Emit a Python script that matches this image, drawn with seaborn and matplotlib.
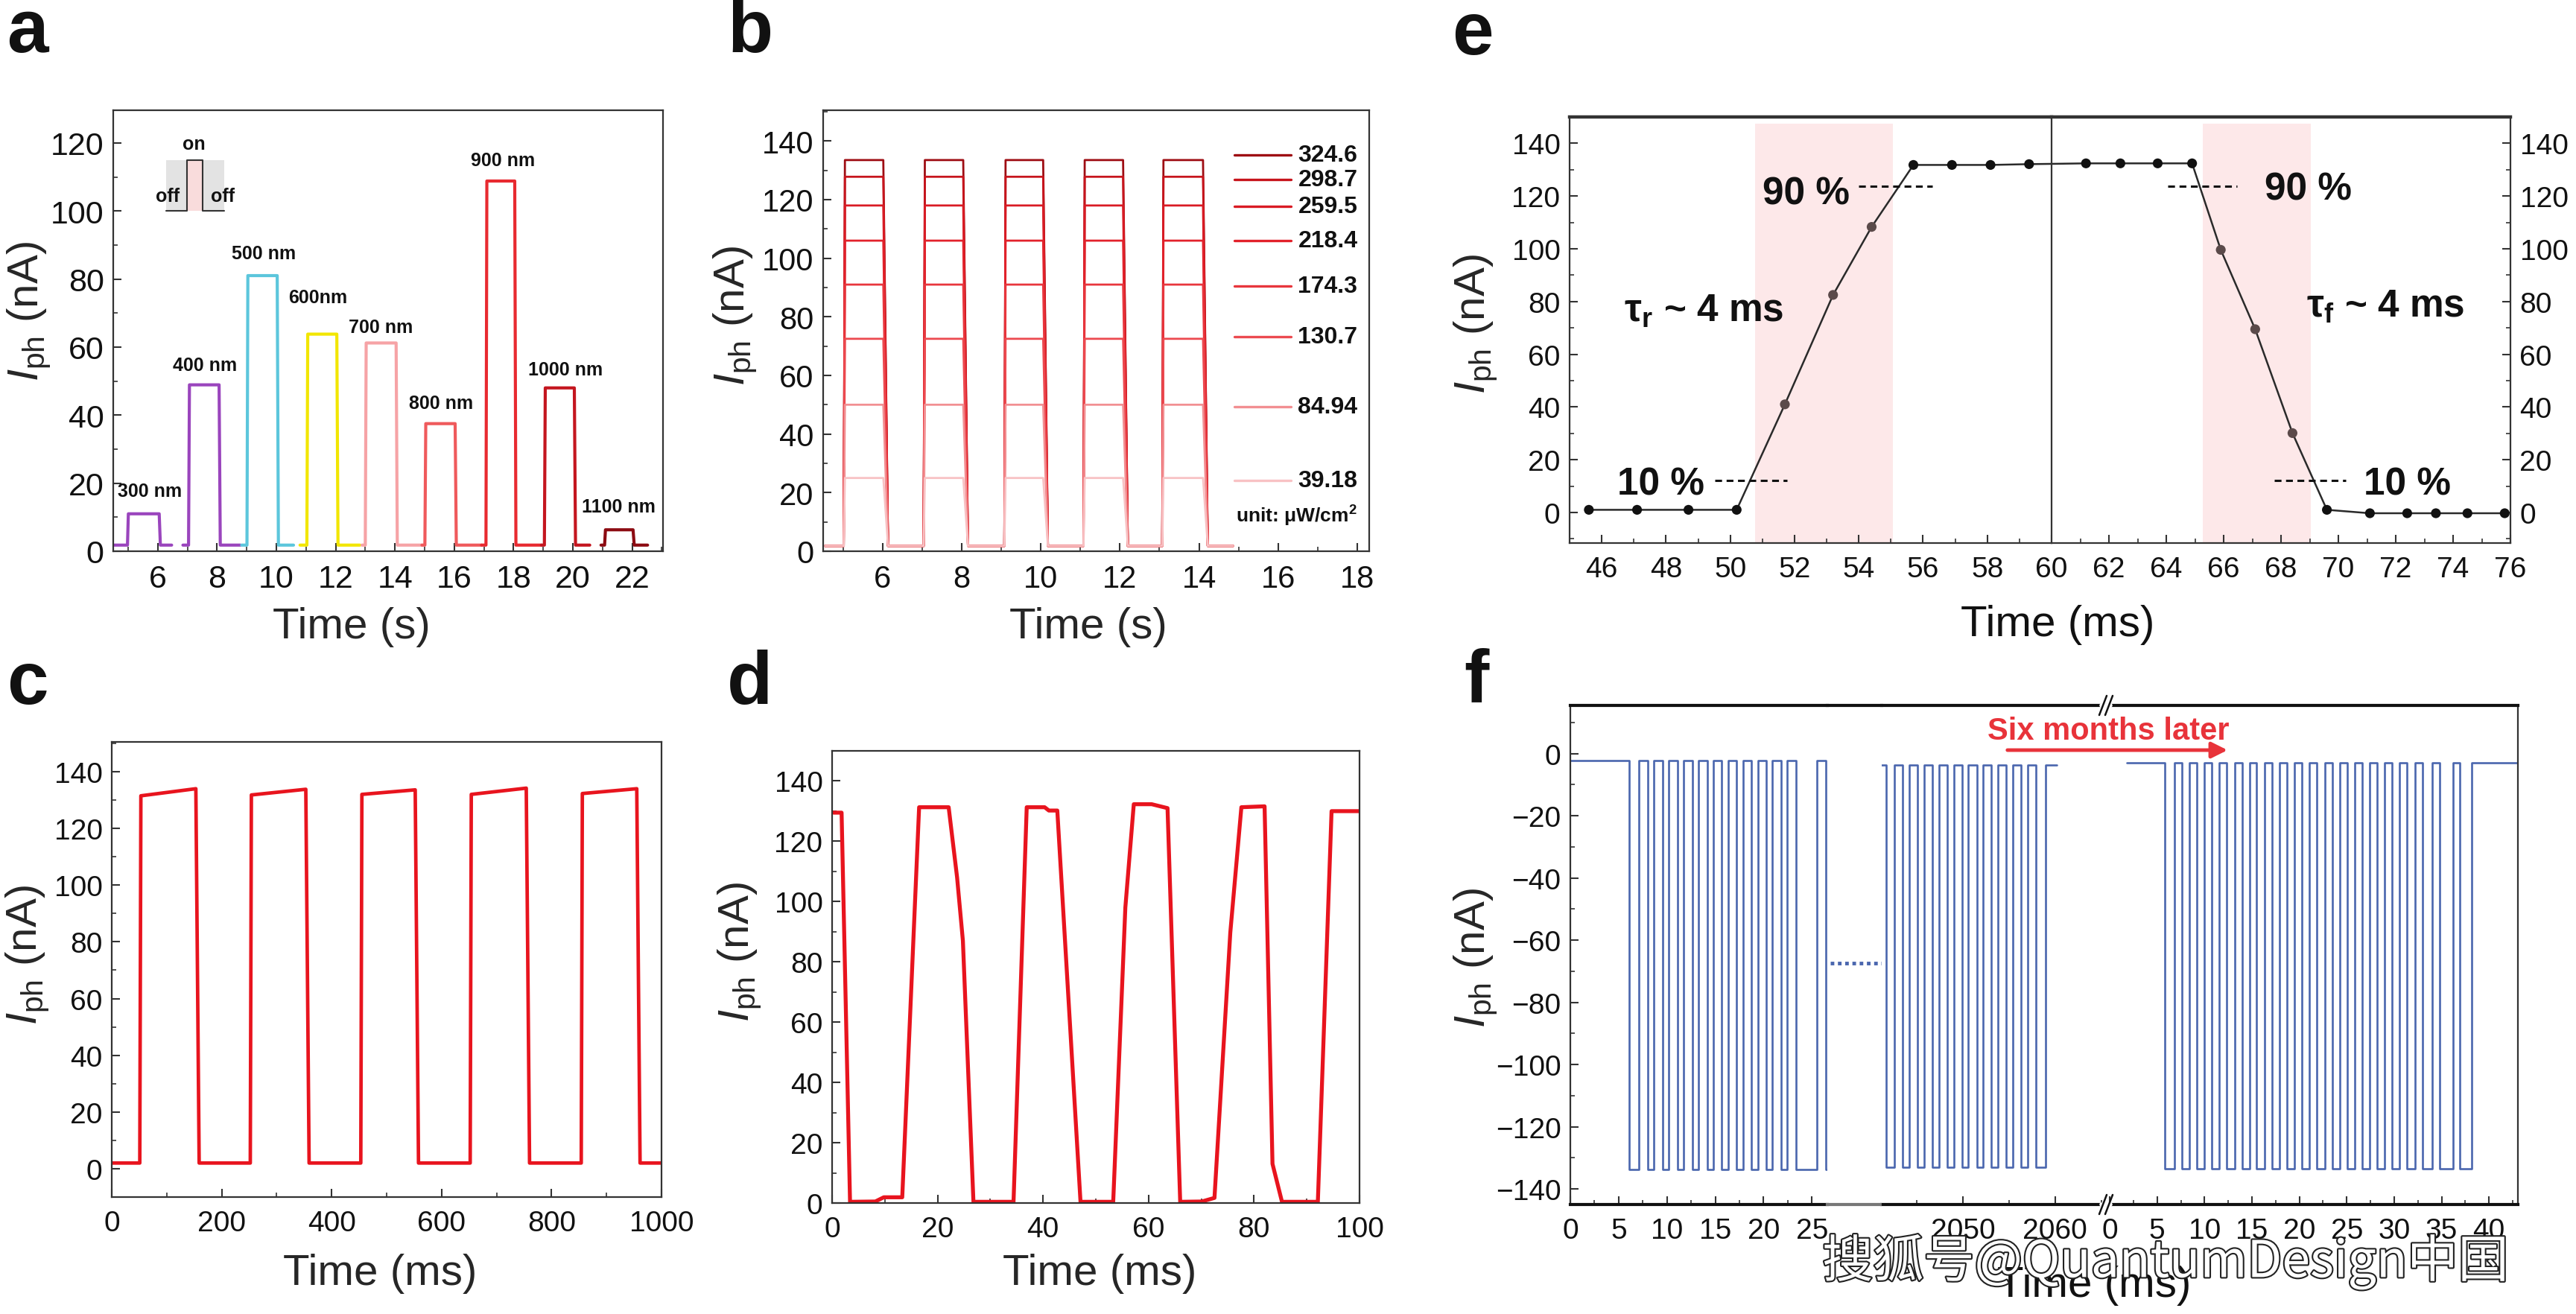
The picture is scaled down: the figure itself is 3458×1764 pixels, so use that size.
import pandas as pd
import seaborn as sns
import matplotlib.pyplot as plt
import matplotlib.patheffects as pe
from matplotlib.lines import Line2D
from matplotlib.patches import Rectangle
from matplotlib.ticker import MultipleLocator

W, H = 3458, 1765

# a: photocurrent for different wavelengths, time in s
a_labels = ['300 nm', '400 nm', '500 nm', '600nm', '700 nm', '800 nm', '900 nm', '1000 nm', '1100 nm']
a_start = [4.5, 6.85, 8.83, 10.8, 12.89, 14.91, 16.92, 18.94, 20.95]
a_on = [4.98, 7.04, 9.01, 11.03, 13.0, 15.01, 17.07, 19.04, 21.07]
a_off = [6.05, 8.07, 10.03, 12.04, 14.04, 16.03, 18.04, 20.05, 22.03]
a_end = [6.47, 8.79, 10.58, 12.82, 14.91, 16.92, 18.94, 20.57, 22.52]
a_high = [11.0, 48.9, 81.0, 63.8, 61.2, 37.5, 108.8, 48.0, 6.3]
a_dark = 1.8
a_text_x = [5.73, 7.6, 9.58, 11.4, 13.52, 15.55, 17.64, 19.76, 21.55]
a_text_y = [17.8, 54.7, 87.5, 74.7, 66.0, 43.6, 114.9, 53.4, 13.1]
sketch_x = [6.29, 6.99, 6.99, 7.52, 7.52, 8.24]
sketch_y = [100, 100, 115, 115, 100, 100]

# b: different light intensities (uW/cm2), time in s
b_labels = ['324.6', '298.7', '259.5', '218.4', '174.3', '130.7', '84.94', '39.18']
b_levels = [133.5, 127.8, 118.0, 106.0, 91.0, 72.5, 50.0, 25.0]
b_on = [5.02, 7.04, 9.08, 11.08, 13.07]
b_off = [6.02, 8.04, 10.06, 12.08, 14.1]
b_dark = 1.8
b_span = [4.55, 14.86]
b_key_y = [135.2, 126.8, 117.6, 106.1, 90.6, 73.2, 49.2, 24.2]

# c: switching, time in ms
c_on = [51, 252, 453, 652, 854]
c_off = [153, 353, 552, 754, 955]
c_top_first = [131.5, 131.8, 132.0, 132.0, 132.3]
c_top_last = [134.0, 133.8, 133.6, 134.2, 134.0]
c_dark = 2.0

# d: fast switching, time in ms
d_time = [0.3, 1.8, 3.4, 8.2, 9.8, 13.3, 16.5, 22.1, 23.7, 24.8, 26.8, 34.4, 36.9, 40.3, 41.1, 42.7, 47.1,
          53.3, 55.6, 57.2, 60.6, 63.6, 66.0, 70.1, 72.5, 75.5, 77.6, 82.0, 83.5, 85.3, 92.1, 94.7, 100.0]
d_current = [129.5, 129.5, 0.4, 0.5, 1.9, 1.9, 131.3, 131.3, 108.0, 87.0, 0.4, 0.4, 131.3, 131.3, 130.2, 130.2, 0.4,
             0.4, 98.0, 132.3, 132.3, 131.0, 0.4, 0.5, 1.7, 89.7, 131.3, 131.6, 13.0, 0.4, 0.4, 130.0, 130.0]

# e: rise / fall time
e_time = [45.6, 47.1, 48.7, 50.2, 51.7, 53.2, 54.4, 55.7, 56.9, 58.1, 59.3,
          61.2, 62.4, 63.7, 64.9, 65.9, 67.1, 68.4, 69.6, 71.1, 72.4, 73.4, 74.5, 75.8]
e_current = [1.0, 1.0, 1.0, 1.0, 41.0, 82.5, 108.3, 131.8, 131.8, 131.8, 132.1,
             132.4, 132.4, 132.4, 132.4, 99.6, 69.5, 30.1, 1.0, -0.3, -0.3, -0.3, -0.3, -0.3]
e_phase = ['flat'] * 4 + ['edge'] * 3 + ['flat'] * 8 + ['edge'] * 3 + ['flat'] * 6
e_rise_window = [50.78, 55.07]
e_fall_window = [65.26, 69.04]
e_level_10 = 12.0
e_level_90 = 123.7

# f: stability, three time windows (ms)
f_start = [0.0, 2041.2, 1.77]
f_first_fall = [6.1, 2041.7, 5.77]
f_pulses = [
    [7.1, 8.64, 10.17, 11.71, 13.25, 14.78, 16.32, 17.86, 19.4, 20.93, 22.47, 25.52],
    [2042.6, 2044.2, 2045.8, 2047.4, 2049.0, 2050.6, 2052.2, 2053.8, 2055.4, 2057.0],
    [6.83, 8.40, 10.0, 11.56, 13.17, 14.73, 16.33, 17.9, 19.5, 21.07, 22.67, 24.24, 25.84,
     27.41, 29.0, 30.58, 32.18, 34.04, 36.18],
]
f_pulse_width = [0.9, 0.9, 0.78]
f_last_rise = [None, 2059.0, 38.18]
f_end = [26.6, 2060.2, 42.9]
f_high = [-2.2, -3.6, -3.0]
f_low = [-133.8, -133.0, -133.6]
f_gap_level = -67.3

a_colors = ['#9a45bd', '#9a45bd', '#5cc6dc', '#f2e600', '#f6a3a6', '#ef5a5c', '#e82a30', '#c4161f', '#8c0b12']
b_colors = ['#9e0d13', '#c7141c', '#d91b24', '#e2222b', '#e8363d', '#ec4a50', '#f28f92', '#f8c2c4']
red = '#e8141e'
blue = '#4a66ae'

sns.set_theme(style='ticks', rc={
    'axes.linewidth': 1.6, 'axes.edgecolor': '#333333',
    'xtick.direction': 'in', 'ytick.direction': 'in',
    'xtick.major.size': 8, 'ytick.major.size': 8, 'xtick.minor.size': 4, 'ytick.minor.size': 4,
    'xtick.major.width': 1.5, 'ytick.major.width': 1.5, 'xtick.minor.width': 1.2, 'ytick.minor.width': 1.2,
    'xtick.color': '#333333', 'ytick.color': '#333333',
})
plt.rcParams['font.family'] = ['Liberation Sans', 'DejaVu Sans']
plt.rcParams.update({'mathtext.fontset': 'custom', 'mathtext.rm': 'Liberation Sans',
                     'mathtext.it': 'Liberation Sans:italic', 'mathtext.bf': 'Liberation Sans:bold',
                     'text.color': '#111111', 'xtick.labelcolor': '#111111', 'ytick.labelcolor': '#111111'})

ylab = r'$\mathit{I}_{\mathrm{ph}}$ (nA)'


def rect(l, t, r, b):
    return [l / W, 1 - b / H, (r - l) / W, (b - t) / H]


def ticks(ax, xmaj, xmin, ymaj, ymin, size):
    ax.xaxis.set_major_locator(MultipleLocator(xmaj))
    ax.xaxis.set_minor_locator(MultipleLocator(xmin))
    ax.yaxis.set_major_locator(MultipleLocator(ymaj))
    ax.yaxis.set_minor_locator(MultipleLocator(ymin))
    ax.tick_params(which='both', top=False, right=False, labelsize=size)
    ax.tick_params(axis='x', pad=12)
    ax.tick_params(axis='y', pad=9)


def labels(ax, xl, xpos, ypos, size=42):
    ax.set_xlabel(xl, fontsize=size, va='center')
    ax.xaxis.set_label_coords(*xpos)
    ax.set_ylabel(ylab, fontsize=size, va='center')
    ax.yaxis.set_label_coords(*ypos)


fig = plt.figure(figsize=(W / 100, H / 100), dpi=100)

# ---------- a
ax = fig.add_axes(rect(152, 149, 890, 741))
rows = []
for lab, t0, ton, toff, t1, hi in zip(a_labels, a_start, a_on, a_off, a_end, a_high):
    xs = [t0, ton, ton + 0.03, toff, toff + 0.04, t1]
    ys = [a_dark, a_dark, hi, hi, a_dark, a_dark]
    rows += [{'time': x, 'current': y, 'wl': lab} for x, y in zip(xs, ys)]
sns.lineplot(data=pd.DataFrame(rows), x='time', y='current', hue='wl', palette=dict(zip(a_labels, a_colors)),
             estimator=None, sort=False, legend=False, linewidth=3.0, ax=ax)
for x, y, lab in zip(a_text_x, a_text_y, a_labels):
    ax.text(x, y, lab, ha='center', va='center', fontsize=18, fontweight='bold')
ax.add_patch(Rectangle((sketch_x[0], sketch_y[0]), sketch_x[-1] - sketch_x[0], sketch_y[2] - sketch_y[0],
                       fc='#e3e3e3', ec='none', zorder=1))
ax.add_patch(Rectangle((sketch_x[1], sketch_y[0]), sketch_x[3] - sketch_x[1], sketch_y[2] - sketch_y[0],
                       fc='#f9dcdc', ec='none', zorder=1))
ax.plot(sketch_x, sketch_y, color='#333333', lw=1.5, zorder=2)
ax.text(7.22, 119.8, 'on', ha='center', va='center', fontsize=18, fontweight='bold')
ax.text(6.33, 104.4, 'off', ha='center', va='center', fontsize=18, fontweight='bold', zorder=3)
ax.text(8.19, 104.4, 'off', ha='center', va='center', fontsize=18, fontweight='bold', zorder=3)
ax.set_xlim(4.5, 23.04)
ax.set_ylim(0, 129.6)
ticks(ax, 2, 1, 20, 10, 31)
labels(ax, 'Time (s)', (0.433, -0.171), (-0.153, 0.546))

# ---------- b
ax = fig.add_axes(rect(1105, 149, 1838, 741))
rows = []
for lab, lev in zip(b_labels, b_levels):
    xs, ys = [b_span[0]], [b_dark]
    for ton, toff in zip(b_on, b_off):
        xs += [ton, ton + 0.03, toff, toff + 0.12]
        ys += [b_dark, lev, lev, b_dark]
    xs.append(b_span[1])
    ys.append(b_dark)
    rows += [{'time': x, 'current': y, 'P': lab} for x, y in zip(xs, ys)]
sns.lineplot(data=pd.DataFrame(rows), x='time', y='current', hue='P', hue_order=b_labels,
             palette=dict(zip(b_labels, b_colors)), estimator=None, sort=False, legend=False,
             linewidth=2.0, ax=ax)
for y, lab, col in zip(b_key_y, b_labels, b_colors):
    ax.plot([14.9, 16.32], [y, y], color=col, lw=2.4)
    ax.text(16.5, y, lab, fontsize=23, fontweight='bold', va='center', ha='left')
ax.text(14.93, 12.2, r'unit: μW/cm$^{\mathbf{2}}$', fontsize=19, fontweight='bold', va='center', ha='left')
ax.set_xlim(4.5, 18.3)
ax.set_ylim(0, 150.5)
ticks(ax, 2, 1, 20, 10, 30)
labels(ax, 'Time (s)', (0.486, -0.171), (-0.161, 0.535))

# ---------- c
ax = fig.add_axes(rect(150, 997, 888, 1608))
xs, ys = [0], [c_dark]
for ton, toff, h0, h1 in zip(c_on, c_off, c_top_first, c_top_last):
    xs += [ton, ton + 2, toff, toff + 6]
    ys += [c_dark, h0, h1, c_dark]
xs.append(1000)
ys.append(c_dark)
sns.lineplot(x=xs, y=ys, estimator=None, sort=False, color=red, linewidth=3.4, ax=ax)
ax.set_xlim(0, 1000)
ax.set_ylim(-10, 150.5)
ticks(ax, 200, 100, 20, 10, 28)
labels(ax, 'Time (ms)', (0.488, -0.167), (-0.153, 0.534))

# ---------- d
ax = fig.add_axes(rect(1117, 1009, 1825, 1616))
sns.lineplot(x=d_time, y=d_current, estimator=None, sort=False, color=red, linewidth=3.8, ax=ax)
ax.set_xlim(0, 100)
ax.set_ylim(0, 150)
ticks(ax, 20, 10, 20, 10, 28)
labels(ax, 'Time (ms)', (0.507, -0.155), (-0.175, 0.557))

# ---------- e
df_e = pd.DataFrame({'time': e_time, 'current': e_current, 'phase': e_phase})
ax_l = fig.add_axes(rect(2107, 158, 2754, 730))
ax_r = fig.add_axes(rect(2754, 158, 3370, 730))
for ax, lims in ((ax_l, (45, 60)), (ax_r, (60, 76))):
    win = e_rise_window if ax is ax_l else e_fall_window
    ax.axvspan(win[0], win[1], ymax=0.985, color='#fde8e9', lw=0, zorder=0)
    sns.lineplot(data=df_e, x='time', y='current', estimator=None, sort=False, color='#2a2a2a',
                 linewidth=1.8, ax=ax)
    sns.scatterplot(data=df_e, x='time', y='current', hue='phase',
                    palette={'flat': '#111111', 'edge': '#5b4a4a'}, s=90, linewidth=0,
                    legend=False, ax=ax, zorder=4)
    ax.set_xlim(*lims)
    ax.set_ylim(-11.6, 150)
    ticks(ax, 2, 1, 20, 10, 28)
    ax.spines['top'].set_linewidth(3.2)
    ax.set_xlabel('')
    ax.set_ylabel('')
ax_l.spines['right'].set_visible(False)
ax_r.set_xticks(range(62, 77, 2))
ax_r.tick_params(which='both', left=False, labelleft=False, right=True, labelright=True)
ax_l.set_ylabel(ylab, fontsize=42, va='center')
ax_l.yaxis.set_label_coords(-0.195, 0.516)
dash = (0, (3, 2))
ax_l.plot([49.53, 51.77], [e_level_10] * 2, color='#111111', lw=2.2, ls=dash)
ax_l.plot([53.99, 56.28], [e_level_90] * 2, color='#111111', lw=2.2, ls=dash)
ax_r.plot([64.05, 66.47], [e_level_90] * 2, color='#111111', lw=2.2, ls=dash)
ax_r.plot([67.77, 70.25], [e_level_10] * 2, color='#111111', lw=2.2, ls=dash)
big = dict(fontsize=37, fontweight='bold', ha='center', va='center')
ax_l.text(47.84, 10.8, '10 %', **big)
ax_l.text(52.35, 121.0, '90 %', **big)
ax_l.text(49.17, 76.6, r'τ$_{\mathbf{r}}$ ~ 4 ms', **big)
ax_r.text(68.96, 122.6, '90 %', **big)
ax_r.text(71.65, 78.2, r'τ$_{\mathbf{f}}$ ~ 4 ms', **big)
ax_r.text(72.4, 10.8, '10 %', **big)
fig.text(2762 / W, 1 - 839 / H, 'Time (ms)', fontsize=42, ha='center', va='center')

# ---------- f
f_boxes = [(2108, 2453), (2526, 2827), (2827, 3380)]
f_lims = [(0, 26.6), (2041.2, 2065.5), (-0.4, 43.05)]
f_axes = []
for i, (l, r) in enumerate(f_boxes):
    ax = fig.add_axes(rect(l, 948, r, 1618))
    xs = [f_start[i], f_first_fall[i], f_first_fall[i]]
    ys = [f_high[i], f_high[i], f_low[i]]
    for s in f_pulses[i]:
        w = f_pulse_width[i]
        xs += [s, s, s + w, s + w]
        ys += [f_low[i], f_high[i], f_high[i], f_low[i]]
    if f_last_rise[i] is not None:
        xs += [f_last_rise[i], f_last_rise[i], f_end[i]]
        ys += [f_low[i], f_high[i], f_high[i]]
    else:
        xs.append(f_end[i])
        ys.append(f_low[i])
    sns.lineplot(x=xs, y=ys, estimator=None, sort=False, color=blue, linewidth=1.9, ax=ax)
    ax.set_xlim(*f_lims[i])
    ax.set_ylim(-145, 15.5)
    if i == 1:
        ticks(ax, 10, 5, 20, 10, 28)
    else:
        ticks(ax, 5, 2.5, 20, 10, 28)
    ax.spines['top'].set_linewidth(3.0)
    ax.spines['bottom'].set_linewidth(3.0)
    ax.spines['top'].set_color('#111111')
    ax.spines['bottom'].set_color('#111111')
    if i > 0:
        ax.spines['left'].set_visible(False)
        ax.tick_params(which='both', left=False, labelleft=False)
    if i < 2:
        ax.spines['right'].set_visible(False)
    f_axes.append(ax)
f_axes[0].set_ylabel(ylab, fontsize=42, va='center')
f_axes[0].yaxis.set_label_coords(-0.368, 0.496)

ax_gap = fig.add_axes(rect(2453, 948, 2526, 1618))
ax_gap.set_xlim(0, 1)
ax_gap.set_ylim(-145, 15.5)
ax_gap.plot([0.05, 1.0], [f_gap_level] * 2, color=blue, lw=3.5, ls=(0, (1, 1)))
ax_gap.set_xticks([])
ax_gap.set_yticks([])
ax_gap.set_facecolor('none')
for side in ('left', 'right'):
    ax_gap.spines[side].set_visible(False)
ax_gap.spines['top'].set_linewidth(3.0)
ax_gap.spines['top'].set_color('#111111')
ax_gap.spines['bottom'].set_linewidth(3.0)
ax_gap.spines['bottom'].set_color('#777777')
ax_gap.spines['bottom'].set_linestyle((0, (1, 1)))

# axis break marks //
for yb in (948, 1618):
    fig.add_artist(Line2D([2821 / W, 2833 / W], [1 - yb / H] * 2, color='white', lw=4, zorder=10))
    for dx in (-4, 4):
        fig.add_artist(Line2D([(2827 + dx - 5) / W, (2827 + dx + 5) / W],
                              [1 - (yb + 13) / H, 1 - (yb - 13) / H], color='#111111', lw=1.8, zorder=11))

fig.text(2830 / W, 1 - 982 / H, 'Six months later', color='#e8333a', fontsize=30, fontweight='bold',
         ha='center', va='center')
f_axes[2].annotate('', xy=(2993 / W, 1 - 1008 / H), xytext=(2692 / W, 1 - 1008 / H),
                   xycoords='figure fraction', textcoords='figure fraction',
                   arrowprops=dict(arrowstyle='-|>', color='#e8333a', lw=3.5, mutation_scale=32))
fig.text(2811 / W, 1 - 1726 / H, 'Time (ms)', fontsize=42, ha='center', va='center')

# panel letters
for lab, x, y in (('a', 9, 70), ('b', 976, 70), ('c', 9, 945), ('d', 976, 945), ('e', 1949, 73), ('f', 1965, 942)):
    fig.text(x / W, 1 - y / H, lab, fontsize=72, fontweight='bold', ha='left', va='baseline')

# watermark
fig.text(2907 / W, 1 - 1695 / H, '搜狐号@QuantumDesign中国', family=['Noto Sans CJK SC', 'DejaVu Sans'],
         fontsize=49, color='white', ha='center', va='center', zorder=20,
         path_effects=[pe.withStroke(linewidth=3, foreground='#222222')])

fig.savefig('out.png', dpi=100)
